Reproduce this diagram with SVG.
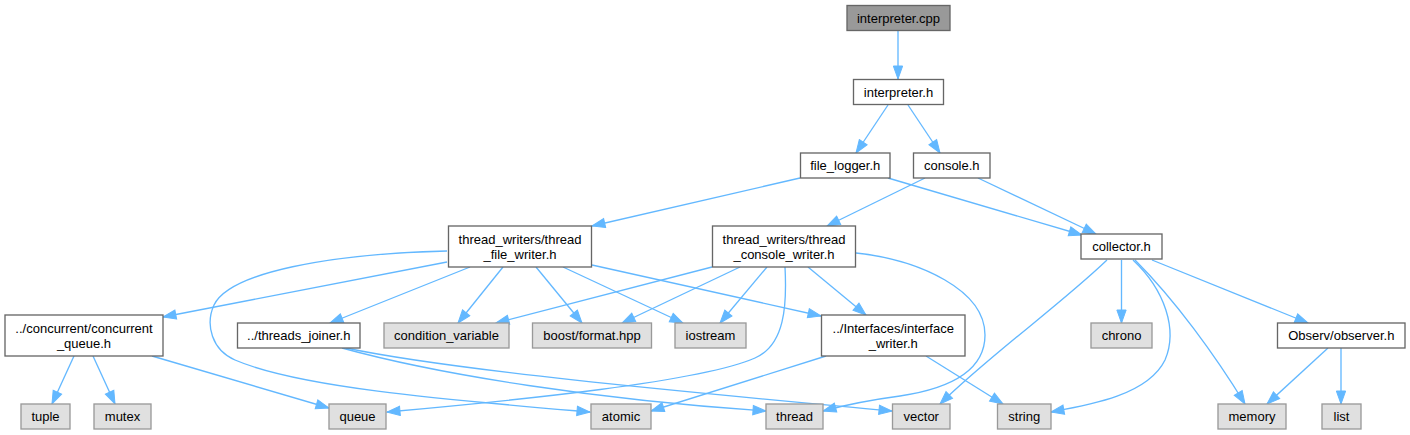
<svg xmlns="http://www.w3.org/2000/svg" width="1410" height="435" viewBox="0 0 1410 435">
<style>
  .e { fill: none; stroke: #63b8ff; stroke-width: 1.33; marker-end: url(#arr); }
  .doc rect { fill: #ffffff; stroke: #666666; stroke-width: 1.33; }
  .root rect { fill: #999999; stroke: #666666; stroke-width: 1.33; }
  .ext rect { fill: #e0e0e0; stroke: #999999; stroke-width: 1.33; }
  text { font-family: "Liberation Sans", Arial, sans-serif; font-size: 13px; fill: #000000; text-anchor: middle; }
</style>
<defs>
  <marker id="arr" markerUnits="userSpaceOnUse" markerWidth="16" markerHeight="12" refX="13" refY="4.65" orient="auto" viewBox="-1 -1 16 12">
    <path d="M0,0 L13,4.65 L0,9.3 Z" fill="#63b8ff" stroke="#63b8ff" stroke-width="1"/>
  </marker>
</defs>
<rect width="1410" height="435" fill="#ffffff"/>
<g id="connectors">
  <path class="e" d="M898,31 L898,79"/>
  <path class="e" d="M888,105 L856,153"/>
  <path class="e" d="M908,105 L940,153"/>
  <path class="e" d="M800,178 L592,226"/>
  <path class="e" d="M888,178 L1082,235"/>
  <path class="e" d="M978,178 L1096,234"/>
  <path class="e" d="M925,178 L827,226"/>
  <path class="e" d="M447,262 L163,317"/>
  <path class="e" d="M447,251 C330,254 230,272 214,305 C205,325 212,350 235,360 C300,388 450,400 590,412"/>
  <path class="e" d="M470,267 L330,323"/>
  <path class="e" d="M503,267 L458,323"/>
  <path class="e" d="M536,267 L582,323"/>
  <path class="e" d="M563,267 L683,323"/>
  <path class="e" d="M592,265 L821,316"/>
  <path class="e" d="M712,267 L496,323"/>
  <path class="e" d="M740,267 L622,323"/>
  <path class="e" d="M767,267 L720,323"/>
  <path class="e" d="M785,267 C787,305 785,345 755,358 C700,382 520,400 387,412"/>
  <path class="e" d="M808,267 L866,315"/>
  <path class="e" d="M856,253 C920,260 985,290 985,335 C985,375 940,390 900,396 C870,400 845,405 823,411"/>
  <path class="e" d="M1107,260 C1060,305 990,355 940,404"/>
  <path class="e" d="M1121.5,260 L1121.5,323"/>
  <path class="e" d="M1133,260 C1165,290 1178,330 1165,360 C1148,395 1090,405 1051,412"/>
  <path class="e" d="M1135,260 C1175,300 1215,355 1245,404"/>
  <path class="e" d="M1152,260 L1308,323"/>
  <path class="e" d="M1328,348 L1267,404"/>
  <path class="e" d="M1341,348 L1341,404"/>
  <path class="e" d="M74,356 L52,404"/>
  <path class="e" d="M93,356 L115,404"/>
  <path class="e" d="M152,356 L329,408"/>
  <path class="e" d="M342,348 C440,375 600,400 766,411"/>
  <path class="e" d="M346,348 C460,372 720,395 892,411"/>
  <path class="e" d="M826,356 L651,411"/>
  <path class="e" d="M926,356 L1003,404"/>
</g>
<g id="node-interpreter-cpp" class="root"><rect x="847" y="5.5" width="103" height="25"/><text x="898.5" y="22.5">interpreter.cpp</text></g>
<g id="node-interpreter-h" class="doc"><rect x="853.5" y="79.5" width="90" height="25"/><text x="898.5" y="96.5">interpreter.h</text></g>
<g id="node-file-logger" class="doc"><rect x="800.5" y="153" width="89.5" height="25"/><text x="845.25" y="170">file_logger.h</text></g>
<g id="node-console" class="doc"><rect x="913.5" y="153" width="76.5" height="25"/><text x="951.75" y="170">console.h</text></g>
<g id="node-collector" class="doc"><rect x="1081" y="234" width="81" height="25"/><text x="1121.5" y="251">collector.h</text></g>
<g id="node-thread-file-writer" class="doc"><rect x="448.5" y="226" width="143" height="41"/><text x="520" y="243.5">thread_writers/thread</text><text x="520" y="258.5">_file_writer.h</text></g>
<g id="node-thread-console-writer" class="doc"><rect x="712.5" y="226" width="143" height="41"/><text x="784" y="243.5">thread_writers/thread</text><text x="784" y="258.5">_console_writer.h</text></g>
<g id="node-concurrent-queue" class="doc"><rect x="5" y="315" width="158" height="41"/><text x="84" y="332.5">../concurrent/concurrent</text><text x="84" y="347.5">_queue.h</text></g>
<g id="node-threads-joiner" class="doc"><rect x="237.5" y="323" width="122.5" height="25"/><text x="298.75" y="340">../threads_joiner.h</text></g>
<g id="node-condition-variable" class="ext"><rect x="384" y="323" width="125" height="25"/><text x="446.5" y="340">condition_variable</text></g>
<g id="node-boost-format" class="ext"><rect x="532.5" y="323" width="119" height="25"/><text x="592" y="340">boost/format.hpp</text></g>
<g id="node-iostream" class="ext"><rect x="675" y="323" width="71" height="25"/><text x="710.5" y="340">iostream</text></g>
<g id="node-interface-writer" class="doc"><rect x="821.5" y="315" width="143.5" height="41"/><text x="893.25" y="332.5">../Interfaces/interface</text><text x="893.25" y="347.5">_writer.h</text></g>
<g id="node-chrono" class="ext"><rect x="1091" y="323" width="61" height="25"/><text x="1121.5" y="340">chrono</text></g>
<g id="node-observer" class="doc"><rect x="1277.5" y="323" width="127.5" height="25"/><text x="1341.25" y="340">Observ/observer.h</text></g>
<g id="node-tuple" class="ext"><rect x="21" y="404" width="49" height="25"/><text x="45.5" y="421">tuple</text></g>
<g id="node-mutex" class="ext"><rect x="94" y="404" width="57" height="25"/><text x="122.5" y="421">mutex</text></g>
<g id="node-queue" class="ext"><rect x="329" y="404" width="57" height="25"/><text x="357.5" y="421">queue</text></g>
<g id="node-atomic" class="ext"><rect x="591" y="404" width="60" height="25"/><text x="621" y="421">atomic</text></g>
<g id="node-thread" class="ext"><rect x="766" y="404" width="57" height="25"/><text x="794.5" y="421">thread</text></g>
<g id="node-vector" class="ext"><rect x="892.5" y="404" width="57.5" height="25"/><text x="921.25" y="421">vector</text></g>
<g id="node-string" class="ext"><rect x="997.5" y="404" width="53.5" height="25"/><text x="1024.25" y="421">string</text></g>
<g id="node-memory" class="ext"><rect x="1218" y="404" width="68" height="25"/><text x="1252" y="421">memory</text></g>
<g id="node-list" class="ext"><rect x="1322" y="404" width="39" height="25"/><text x="1341.5" y="421">list</text></g>
</svg>
